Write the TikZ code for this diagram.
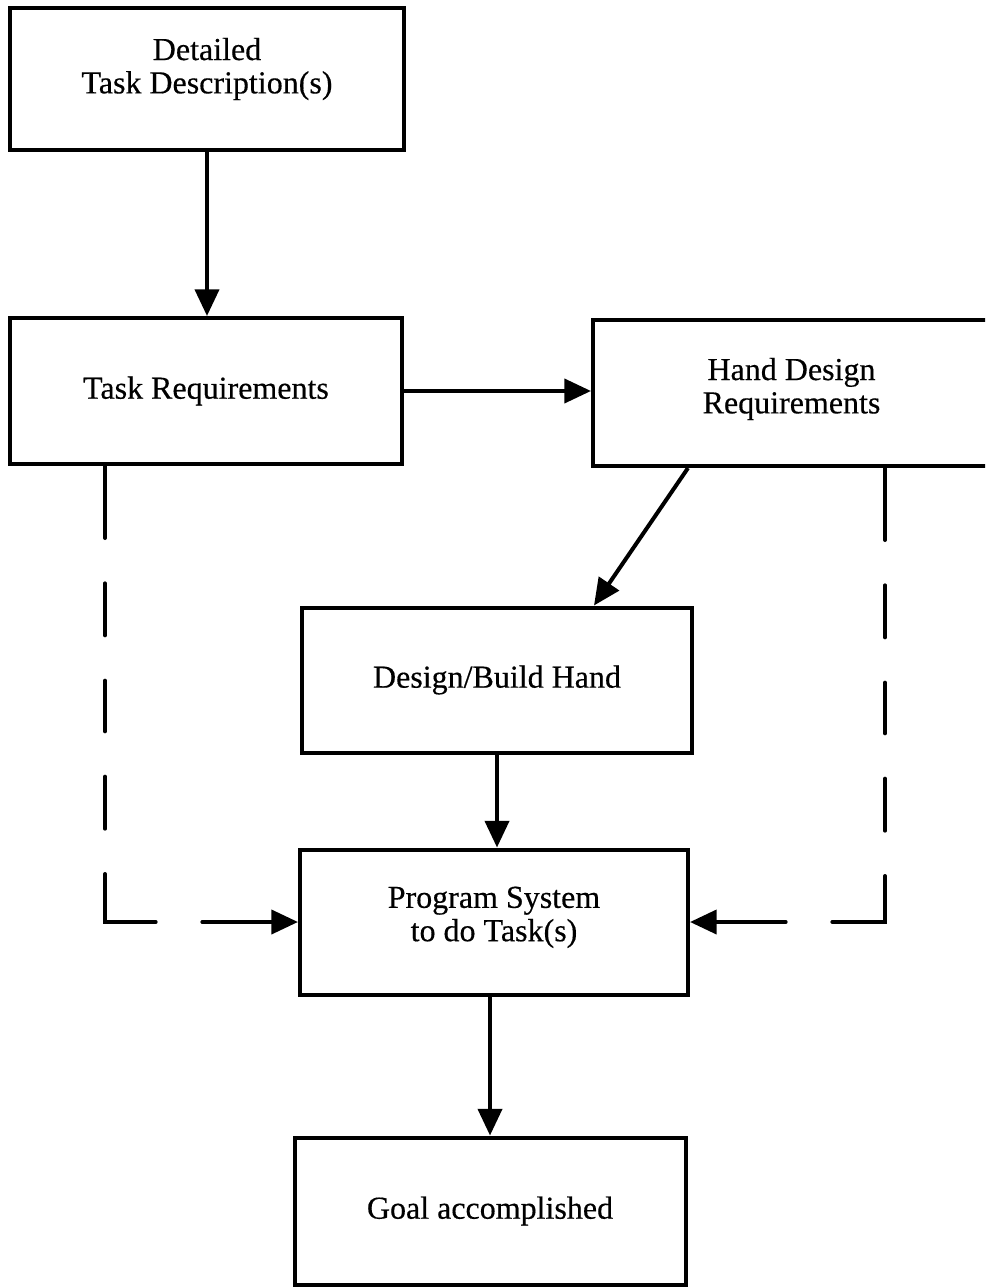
\documentclass[tikz,border=0pt]{standalone}
\usepackage{fontspec}
\setmainfont{Liberation Serif}[FakeBold=0.4]
\usetikzlibrary{arrows.meta,calc}
\begin{document}
\begin{tikzpicture}[x=0.75pt,y=-0.75pt,
  txt/.style={inner sep=0pt,align=center,font=\fontsize{24}{25}\selectfont},
  box/.style={draw,line width=3pt,inner sep=0pt,align=center,font=\fontsize{24}{25}\selectfont},
  conn/.style={line width=3pt,-{Triangle[length=20pt,width=18pt]}},
  dashconn/.style={conn,line cap=round,dash pattern=on 54pt off 34pt on 39pt off 34pt on 38pt off 34pt on 39pt off 34pt on 74pt off 35pt on 200pt off 1pt}]
\path[use as bounding box,clip] (0,0) rectangle (985,1287);
\node[box,minimum width=295.5pt,minimum height=106.5pt,label={[txt,yshift=7.5pt]center:{Detailed\\Task Description(s)}}] (b1) at (207,79) {};
\node[box,minimum width=294pt,minimum height=109.5pt] (b2) at (206,391) {Task Requirements};
\node[box,minimum width=297.75pt,minimum height=109.5pt,label={[txt,yshift=3pt]center:{Hand Design\\Requirements}}] (b3) at (791.5,393) {};
\node[box,minimum width=292.5pt,minimum height=108.75pt] (b4) at (497,680) {Design/Build Hand};
\node[box,minimum width=291pt,minimum height=108.75pt,label={[txt,yshift=3.5pt]center:{Program System\\to do Task(s)}}] (b5) at (494,922) {};
\node[box,minimum width=293.25pt,minimum height=110.25pt] (b6) at (490,1211) {Goal accomplished};
\draw[conn] (b1.south) -- (b1.south |- b2.north);
\draw[conn] (b2.east) -- (b2.east -| b3.west);
\draw[conn] ($(b3.south west)+(97,0)$) -- ($(b4.north west)+(294,0)$);
\draw[conn] (b4.south) -- (b4.south |- b5.north);
\draw[conn] (b6.north |- b5.south) -- (b6.north);
\draw[dashconn] ($(b2.south west)+(97,0)$) |- (b5.west);
\draw[dashconn] ($(b3.south west)+(294,0)$) |- (b5.east);
\end{tikzpicture}
\end{document}
